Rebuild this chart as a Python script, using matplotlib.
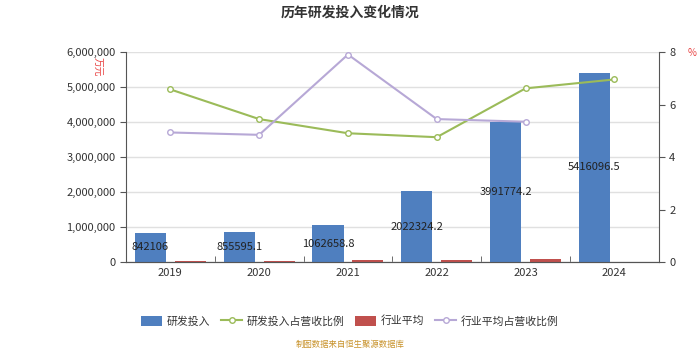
import numpy as np
import matplotlib
matplotlib.use('Agg')
from matplotlib import pyplot as plt
from matplotlib.ticker import FuncFormatter, MultipleLocator

plt.rcParams['font.family'] = ['Noto Sans CJK SC', 'DejaVu Sans']

# data
years = ['2019', '2020', '2021', '2022', '2023', '2024']
rd_invest = [842106, 855595.1, 1062658.8, 2022324.2, 3991774.2, 5416096.5]
rd_labels = ['842106', '855595.1', '1062658.8', '2022324.2', '3991774.2', '5416096.5']
ind_avg = [45000, 42000, 48000, 62000, 85000, np.nan]
rd_ratio = [6.58, 5.45, 4.91, 4.76, 6.62, 6.96]
ind_ratio = [4.94, 4.85, 7.91, 5.45, 5.35, np.nan]

blue = '#4f7fbf'
red = '#c0504d'
green = '#9bbb59'
purple = '#b7a8d6'
txt = '#333333'

fig = plt.figure(figsize=(7, 3.5), dpi=100)
ax = fig.add_axes([0.18, 0.251, 0.761, 0.6])
ax2 = ax.twinx()

x = np.arange(len(years))
w = 0.35
off = 0.225
ax.bar(x - off, rd_invest, w, color=blue, zorder=3, label='研发投入')
ax.bar(x + off, ind_avg, w, color=red, zorder=3, label='行业平均')
for xi, v, s in zip(x, rd_invest, rd_labels):
    ax.text(xi - off, v / 2, s, ha='center', va='center', fontsize=8, color='#222222', zorder=5)

ax2.plot(x, rd_ratio, color=green, lw=1.5, marker='o', ms=4, mfc='white', mec=green, label='研发投入占营收比例')
ax2.plot(x, ind_ratio, color=purple, lw=1.5, marker='o', ms=4, mfc='white', mec=purple, label='行业平均占营收比例')

ax.set_xlim(-0.5, 5.5)
ax.set_ylim(0, 6000000)
ax.yaxis.set_major_locator(MultipleLocator(1000000))
ax.yaxis.set_major_formatter(FuncFormatter(lambda v, p: f'{int(v):,}'))
ax2.set_ylim(0, 8)
ax2.yaxis.set_major_locator(MultipleLocator(2))

ax.set_xticks(x)
ax.set_xticklabels(years)
ax.set_xticks(np.arange(-0.5, 6, 1), minor=True)
ax.tick_params(axis='x', which='major', length=0, pad=4, labelsize=8, labelcolor=txt)
ax.tick_params(axis='x', which='minor', length=4, direction='in', color='#555555')
ax.tick_params(axis='y', length=4, color='#555555', labelsize=8, labelcolor=txt)
ax2.tick_params(axis='y', length=4, color='#555555', labelsize=8, labelcolor=txt)

ax.grid(axis='y', color='#e0e0e0', lw=1, zorder=0)
ax.set_axisbelow(True)
for a in (ax, ax2):
    a.spines['top'].set_visible(False)
    a.spines['left'].set_color('#555555')
    a.spines['right'].set_color('#555555')
    a.spines['bottom'].set_color('#555555')
ax.spines['right'].set_visible(False)
ax2.spines['left'].set_visible(False)

fig.text(0.5, 0.965, '历年研发投入变化情况', ha='center', va='center', fontsize=10, fontweight='bold', color=txt)
fig.text(0.14, 0.81, '万元', rotation=-90, ha='center', va='center', fontsize=7, color='#e84040')
fig.text(0.988, 0.85, '%', ha='center', va='center', fontsize=7, color='#e84040')

h1, l1 = ax.get_legend_handles_labels()
h2, l2 = ax2.get_legend_handles_labels()
handles = [h1[0], h2[0], h1[1], h2[1]]
labels = [l1[0], l2[0], l1[1], l2[1]]
fig.legend(handles, labels, loc='center', bbox_to_anchor=(0.5, 0.083), ncol=4, frameon=False,
           fontsize=7.8, handlelength=1.9, handleheight=1.1, columnspacing=1.0, handletextpad=0.45,
           labelcolor=txt)
fig.text(0.5, 0.015, '制图数据来自恒生聚源数据库', ha='center', va='center', fontsize=6, color='#c8922a')

fig.savefig('out.png', dpi=100)
